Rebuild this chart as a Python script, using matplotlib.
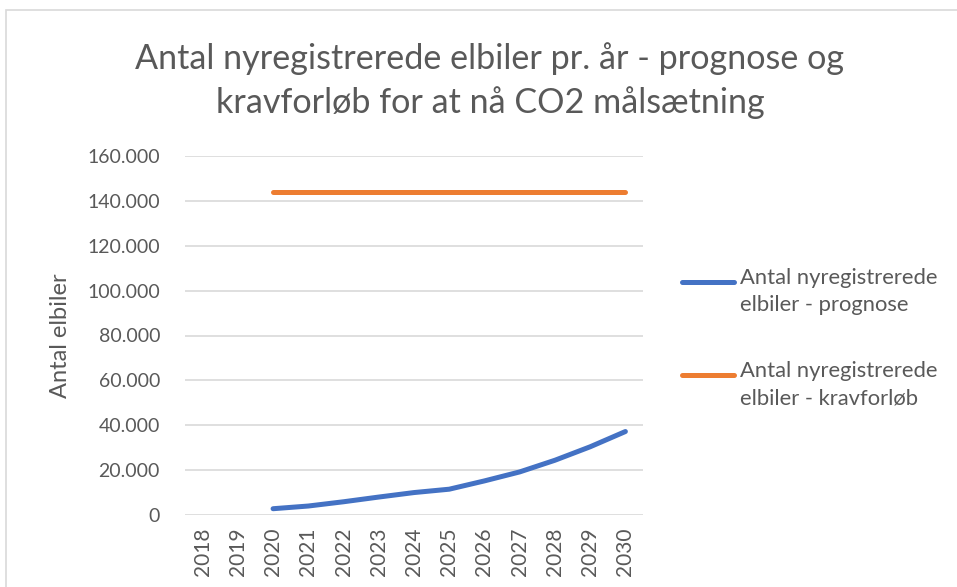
import matplotlib
matplotlib.use("Agg")
import matplotlib.pyplot as plt
from matplotlib.lines import Line2D
from matplotlib.patches import Rectangle
from matplotlib.ticker import FuncFormatter, MultipleLocator

plt.rcParams['font.family'] = ['Lato', 'DejaVu Sans']

years = [str(y) for y in range(2018, 2031)]
prognose_years = years[2:]
prognose = [2800, 4000, 5900, 8000, 10000, 11500, 15200, 19200, 24400, 30400, 37200]
krav_years = years[2:]
krav = [144000] * 11

label_prognose = "Antal nyregistrerede\nelbiler - prognose"
label_krav = "Antal nyregistrerede\nelbiler - kravforløb"
title = "Antal nyregistrerede elbiler pr. år - prognose og\nkravforløb for at nå CO2 målsætning"

blue = "#4472C4"
orange = "#ED7D31"
grey = "#595959"

W, H = 957, 587
fig = plt.figure(figsize=(W / 100, H / 100), dpi=100)
ax = fig.add_axes([185 / W, 1 - 515 / H, (643 - 185) / W, (515 - 156) / H])

xpos = {y: i for i, y in enumerate(years)}
ax.plot([xpos[y] for y in prognose_years], prognose, color=blue, lw=3.6,
        solid_capstyle='round', solid_joinstyle='round')
ax.plot([xpos[y] for y in krav_years], krav, color=orange, lw=3.6,
        solid_capstyle='round')

ax.set_xlim(-0.5, len(years) - 0.5)
ax.set_ylim(0, 160000)
ax.set_xticks(range(len(years)))
ax.set_xticklabels(years, rotation=90, fontsize=15, color=grey)
ax.yaxis.set_major_locator(MultipleLocator(20000))
ax.yaxis.set_major_formatter(FuncFormatter(lambda v, p: f"{int(v):,}".replace(",", ".")))
ax.tick_params(axis='y', labelsize=14, colors=grey, length=0, pad=18)
ax.tick_params(axis='x', length=0, pad=9)
ax.grid(axis='y', color='#D9D9D9', lw=1.2)
ax.set_axisbelow(True)
for s in ax.spines.values():
    s.set_visible(False)
ax.set_ylabel("Antal elbiler", fontsize=17, color=grey, labelpad=12)

fig.text(490 / W, 1 - 81 / H, title, ha='center', va='center', fontsize=24.6,
         color=grey, linespacing=1.42)

# legend
for yl, col, lab in [(282, blue, label_prognose), (375, orange, label_krav)]:
    fig.add_artist(Line2D([682 / W, 734 / W], [1 - yl / H] * 2, color=col, lw=3.6,
                          solid_capstyle='round'))
    fig.text(740 / W, 1 - (yl - 14) / H, lab, ha='left', va='top', fontsize=15.8,
             color=grey, linespacing=1.45)

fig.add_artist(Rectangle((6 / W, -0.05), 1.0, 1 - 10 / H + 0.05, transform=fig.transFigure,
                         fill=False, edgecolor='#D9D9D9', lw=1.2))

fig.savefig("out.png", dpi=100)
